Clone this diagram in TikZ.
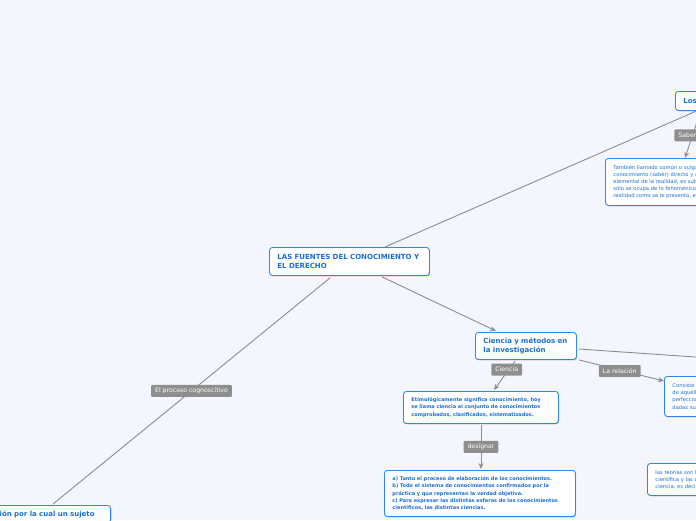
\documentclass[tikz,border=0pt]{standalone}
\usepackage{fontspec}
\setmainfont{DejaVu Sans}
\usetikzlibrary{shadows,calc,arrows.meta}
\definecolor{bgc}{HTML}{F3F6FE}
\definecolor{bb}{HTML}{2F86EE}
\definecolor{tb}{HTML}{1A6FD6}
\definecolor{lnc}{HTML}{8C8C94}
\definecolor{labc}{HTML}{8E8E8E}
\begin{document}
\begin{tikzpicture}[x=1pt,y=-1pt,
  box/.style={draw=bb, fill=white, rounded corners=3pt, line width=0.9pt,
    drop shadow={shadow xshift=0.7pt,shadow yshift=-0.9pt,opacity=0.22,fill=black},
    text=tb, align=left, inner xsep=8pt, inner ysep=0pt, anchor=north west},
  bigtxt/.style={font=\fontsize{7}{9}\selectfont\bfseries},
  smallb/.style={font=\fontsize{5}{7.2}\selectfont\bfseries},
  smallr/.style={font=\fontsize{5.2}{7.2}\selectfont},
  lbl/.style={fill=labc, text=white, font=\fontsize{6.2}{7}\selectfont, inner xsep=4pt, inner ysep=0pt, minimum height=12pt, rounded corners=1pt},
  conn/.style={draw=lnc, line width=0.9pt},
  arr/.style={conn, -{Stealth[length=6pt,width=5pt]}}
]
\useasboundingbox (0,0) rectangle (696,520);
\fill[bgc] (0,0) rectangle (696,520);
\clip (0,0) rectangle (696,520);

% nodes
\node[box, bigtxt, minimum width=110pt, text width=94pt, minimum height=19pt] (los) at (675,91) {Los conocimientos};
\node[box, smallr, minimum width=200pt, text width=184pt, minimum height=47pt] (tambien) at (605,158)
  {También llamado común o vulgar, es el\\conocimiento (saber) directo y superficial\\elemental de la realidad, es subjetivo\\sólo se ocupa de lo fenoménico de la\\realidad como se le presenta, es decir};
\node[box, bigtxt, minimum width=160pt, text width=144pt, minimum height=28pt] (fuentes) at (269,247)
  {LAS FUENTES DEL CONOCIMIENTO Y\\EL DERECHO};
\node[box, bigtxt, minimum width=101pt, text width=85pt, minimum height=27pt] (ciencia) at (475,332)
  {Ciencia y métodos en\\la investigación};
\node[box, smallb, minimum width=155pt, text width=139pt, minimum height=32pt] (etim) at (403,391)
  {Etimológicamente significa conocimiento, hoy\\se llama ciencia al conjunto de conocimientos\\comprobados, clasificados, sistematizados.};
\node[box, smallb, minimum width=191pt, text width=175pt, minimum height=46pt] (tanto) at (384,470)
  {a) Tanto el proceso de elaboración de los conocimientos.\\b) Todo el sistema de conocimientos confirmados por la\\práctica y que representan la verdad objetiva.\\c) Para expresar las distintas esferas de los conocimientos\\científicos, las distintas ciencias.};
\node[box, smallr, minimum width=100pt, text width=84pt, minimum height=40pt] (consiste) at (664,376)
  {Consiste en la\\de aquéllos\\perfeccionar\\dadas sus};
\node[box, smallr, minimum width=100pt, text width=84pt, minimum height=32pt] (teorias) at (647,463)
  {las teorías son la\\científica y las de\\ciencia, es decir};
\node[box, bigtxt, anchor=north east, inner xsep=16pt, inner ysep=5pt, text width=200pt, align=right] (relacion) at (111,505)
  {Es la relación por la cual un sujeto};

% connectors
\draw[conn] ($(fuentes.north west)+(116,0)$) -- ($(los.south west)+(24,-1)$);
\draw[arr] ($(los.south west)+(25,2)$) -- ($(tambien.north west)+(80,0)$)
  node[lbl, pos=0.5, xshift=-5pt] (lsaber) {Saber};
\draw[arr] ($(fuentes.south west)+(113,1)$) -- ($(ciencia.north west)+(21,-1)$);
\draw[conn] ($(fuentes.south west)+(61,2)$) -- ($(relacion.north east)+(-58,-1)$)
  node[lbl, pos=0.5] (lproceso) {El proceso cognoscitivo};
\coordinate (offr) at (780,362.8);
\draw[conn] ($(ciencia.north east)+(2,17)$) -- (offr);
\draw[arr] ($(ciencia.south east)+(2,0)$) -- ($(consiste.north west)+(0,5)$)
  node[lbl, pos=0.48, yshift=-1pt] (lrel) {La relación};
\draw[arr] ($(ciencia.south west)+(40,1)$) -- ($(etim.north west)+(91,-1)$)
  node[lbl, pos=0.3, xshift=-2pt] (lcien) {Ciencia};
\draw[arr] ($(etim.south west)+(78,1)$) -- ($(tanto.north west)+(97,-1)$)
  node[lbl, pos=0.5] (ldes) {designar};
\end{tikzpicture}
\end{document}
